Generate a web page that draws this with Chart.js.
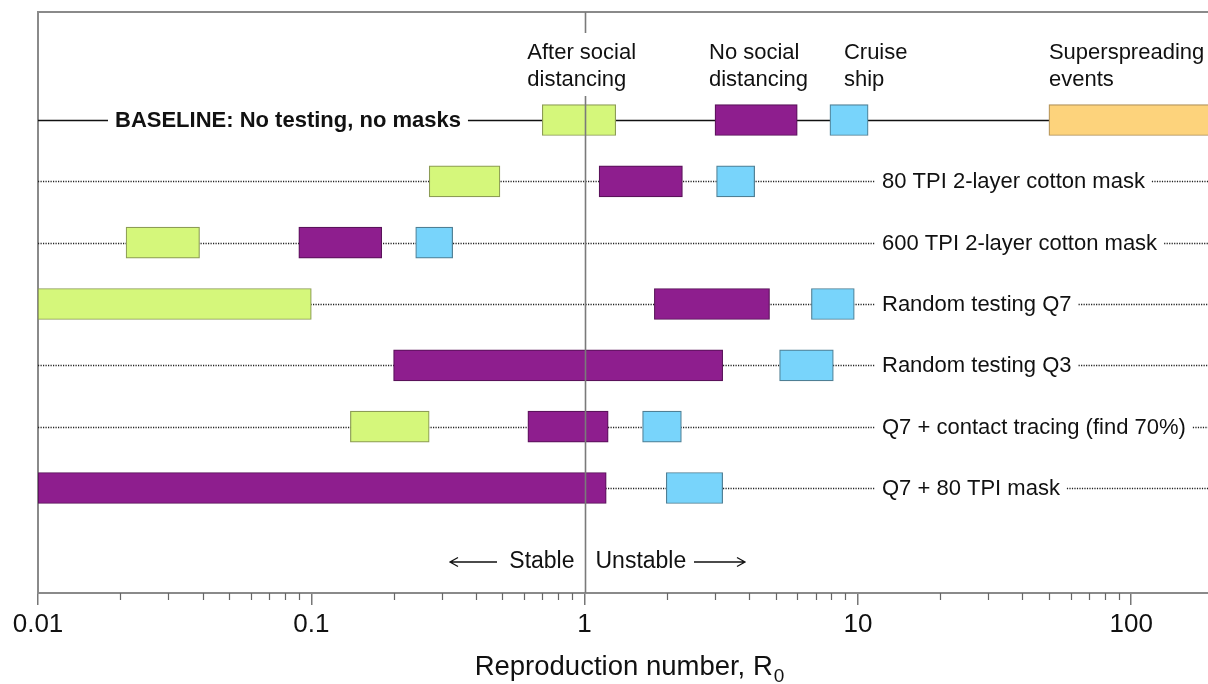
<!DOCTYPE html>
<html>
<head>
<meta charset="utf-8">
<script src="https://cdn.jsdelivr.net/npm/chart.js@4"></script>
<style>
html,body{margin:0;padding:0;background:#fff;}
#wrap{width:1208px;height:684px;position:relative;}
</style>
</head>
<body>
<div id="wrap"><canvas id="c" width="1208" height="684"></canvas></div>
<script>
// ---- data ----
const rowLabels = [
  'BASELINE: No testing, no masks',
  '80 TPI 2-layer cotton mask',
  '600 TPI 2-layer cotton mask',
  'Random testing Q7',
  'Random testing Q3',
  'Q7 + contact tracing (find 70%)',
  'Q7 + 80 TPI mask'
];
const seriesNames = [['After social','distancing'],['No social','distancing'],['Cruise','ship'],['Superspreading','events']];
const afterSocialDistancing = [[0.70,1.30],[0.27,0.49],[0.021,0.039],[0.01,0.10],null,[0.139,0.27],null];
const noSocialDistancing    = [[3.0,6.0],[1.13,2.28],[0.090,0.181],[1.80,4.75],[0.20,3.20],[0.62,1.22],[0.01,1.20]];
const cruiseShip            = [[7.9,10.9],[3.04,4.19],[0.241,0.329],[6.76,9.7],[5.17,8.13],[1.63,2.26],[1.99,3.20]];
const superspreading        = [[50,200],null,null,null,null,null,null];
const tickValues = [0.01,0.1,1,10,100];
const tickLabels = ['0.01','0.1','1','10','100'];
const xMin = 0.01, xMax = 191;

const FONT = '"Liberation Sans", Arial, Helvetica, sans-serif';

function toPoints(arr){
  const out = [];
  arr.forEach((r,i)=>{ if(r) out.push({x:r, y:i}); });
  return out;
}

const decorPlugin = {
  id:'decor',
  beforeDatasetsDraw(chart){
    const ctx = chart.ctx, a = chart.chartArea;
    const xs = chart.scales.x, ys = chart.scales.y;
    ctx.save();
    // frame: top and left
    ctx.strokeStyle = '#8a8a8a'; ctx.lineWidth = 2;
    ctx.beginPath();
    ctx.moveTo(a.left, a.bottom); ctx.lineTo(a.left, a.top); ctx.lineTo(a.right+2, a.top);
    ctx.stroke();
    // row lines
    rowLabels.forEach((lab,i)=>{
      const y = Math.round(ys.getPixelForValue(i)) + 0.5;
      ctx.setLineDash(i===0 ? [] : [1.2,1.3]);
      ctx.strokeStyle = i===0 ? '#111' : '#222';
      ctx.lineWidth = i===0 ? 1.6 : 1.3;
      let tx0, tx1;
      if(i===0){
        ctx.font = 'bold 22px ' + FONT;
        tx0 = a.left + 77;
      } else {
        ctx.font = '22px ' + FONT;
        tx0 = 882;
      }
      tx1 = tx0 + ctx.measureText(lab).width;
      ctx.beginPath();
      ctx.moveTo(a.left, y); ctx.lineTo(tx0 - 7, y);
      ctx.moveTo(tx1 + 7, y); ctx.lineTo(a.right, y);
      ctx.stroke();
    });
    ctx.restore();
  },
  afterDatasetsDraw(chart){
    const ctx = chart.ctx, a = chart.chartArea;
    const xs = chart.scales.x, ys = chart.scales.y;
    ctx.save();
    // vertical line at R0 = 1
    const x1 = Math.round(xs.getPixelForValue(1)) + 0.5;
    ctx.strokeStyle = '#7a7a7a'; ctx.lineWidth = 1.6;
    ctx.beginPath();
    ctx.moveTo(x1, a.top); ctx.lineTo(x1, 33);
    ctx.moveTo(x1, 96); ctx.lineTo(x1, a.bottom);
    ctx.stroke();
    // minor ticks
    ctx.strokeStyle = '#666'; ctx.lineWidth = 1.2;
    ctx.beginPath();
    tickValues.forEach(d=>{
      for(let m=2;m<=9;m++){
        const v = d*m;
        if(v > xMax) break;
        const px = Math.round(xs.getPixelForValue(v)) + 0.5;
        ctx.moveTo(px, a.bottom); ctx.lineTo(px, a.bottom + 7);
      }
    });
    ctx.stroke();
    // text
    ctx.fillStyle = '#111';
    ctx.textBaseline = 'middle';
    ctx.textAlign = 'left';
    rowLabels.forEach((lab,i)=>{
      const y = ys.getPixelForValue(i) + 1;
      if(i===0){ ctx.font = 'bold 22px ' + FONT; ctx.fillText(lab, a.left + 77, y); }
      else { ctx.font = '22px ' + FONT; ctx.fillText(lab, 882, y); }
    });
    // series header labels, anchored to baseline bar starts
    ctx.font = '22px ' + FONT;
    const starts = [afterSocialDistancing[0][0], noSocialDistancing[0][0], cruiseShip[0][0], superspreading[0][0]];
    const offs = [-15, -6, 14, 0];
    seriesNames.forEach((nm,k)=>{
      const px = xs.getPixelForValue(starts[k]) + offs[k];
      ctx.fillText(nm[0], px, 53);
      ctx.fillText(nm[1], px, 80);
    });
    // Stable / Unstable
    const ya = 562;
    ctx.font = '23px ' + FONT;
    ctx.textAlign = 'right';
    ctx.fillText('Stable', x1 - 11, ya);
    ctx.textAlign = 'left';
    ctx.fillText('Unstable', x1 + 10, ya);
    ctx.strokeStyle = '#111'; ctx.lineWidth = 1.3;
    ctx.beginPath();
    ctx.moveTo(450, ya); ctx.lineTo(497, ya);
    ctx.moveTo(458, ya-4.5); ctx.lineTo(450, ya); ctx.lineTo(458, ya+4.5);
    ctx.moveTo(694, ya); ctx.lineTo(745, ya);
    ctx.moveTo(737, ya-4.5); ctx.lineTo(745, ya); ctx.lineTo(737, ya+4.5);
    ctx.stroke();
    // axis title with subscript
    ctx.textAlign = 'left';
    ctx.textBaseline = 'alphabetic';
    ctx.font = '27.5px ' + FONT;
    const t = 'Reproduction number, R';
    const tw = ctx.measureText(t).width;
    ctx.font = '19px ' + FONT;
    const sw = ctx.measureText('0').width;
    const tx = 629 - (tw + sw)/2;
    ctx.font = '27.5px ' + FONT;
    ctx.fillText(t, tx, 675);
    ctx.font = '19px ' + FONT;
    ctx.fillText('0', tx + tw + 1, 682);
    ctx.restore();
  }
};

const mk = (label, arr, fill, border) => ({
  label, data: toPoints(arr), backgroundColor: fill, borderColor: border,
  borderWidth: 1.2, borderSkipped: false, grouped: false, barThickness: 31
});

new Chart(document.getElementById('c'), {
  type: 'bar',
  data: {
    datasets: [
      mk('After social distancing', afterSocialDistancing, '#d5f77b', '#8c9c55'),
      mk('No social distancing', noSocialDistancing, '#8e1e8e', '#5a125a'),
      mk('Cruise ship', cruiseShip, '#78d4fb', '#4f7f94'),
      mk('Superspreading events', superspreading, '#fdd37c', '#b09058')
    ]
  },
  options: {
    indexAxis: 'y',
    responsive: false,
    animation: false,
    events: [],
    layout: { padding: { left: 38, top: 12, right: 0, bottom: 0 } },
    plugins: { legend: { display: false }, tooltip: { enabled: false } },
    scales: {
      y: { type: 'linear', min: -1.761, max: 7.712, reverse: true, offset: false, display: false },
      x: {
        type: 'logarithmic', min: xMin, max: xMax,
        afterBuildTicks(s){ s.ticks = tickValues.map(v=>({value:v, major:true})); },
        afterFit(s){ s.height = 91; },
        border: { display: true, color: '#8a8a8a', width: 2 },
        grid: { display: true, drawOnChartArea: false, drawTicks: true, tickLength: 12, color: '#777', lineWidth: 1.5 },
        ticks: {
          autoSkip: false, maxRotation: 0, padding: 4,
          color: '#111', font: { size: 26, family: FONT },
          callback: (v, i) => tickLabels[i]
        }
      }
    }
  },
  plugins: [decorPlugin]
});
</script>
</body>
</html>
